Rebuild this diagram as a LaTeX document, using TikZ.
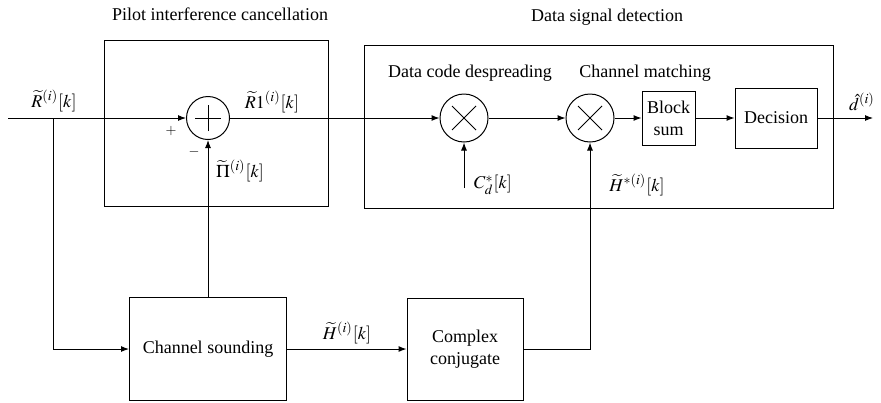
\documentclass[tikz,border=0pt]{standalone}
\usepackage{mathptmx}
\usepackage{fontspec}
\setmainfont{Liberation Serif}
\usetikzlibrary{arrows.meta,calc}
\begin{document}
\begin{tikzpicture}[x=0.5pt,y=-0.5pt,
  font=\fontsize{9}{11}\selectfont, line width=0.5pt,
  arr/.style={-{Latex[length=4pt,width=3pt]}},
  blk/.style={draw, inner sep=0pt, align=center},
  frame/.style={draw, inner sep=0pt},
  sumnode/.style={draw, circle, minimum size=21.5pt, inner sep=0pt,
    path picture={
      \draw ([xshift=-6.5pt]path picture bounding box.center) -- ([xshift=6.5pt]path picture bounding box.center);
      \draw ([yshift=-6.5pt]path picture bounding box.center) -- ([yshift=6.5pt]path picture bounding box.center);}},
  mulnode/.style={draw, circle, minimum size=24pt, inner sep=0pt,
    path picture={
      \draw ([shift={(-6pt,-6pt)}]path picture bounding box.center) -- ([shift={(6pt,6pt)}]path picture bounding box.center);
      \draw ([shift={(-6pt,6pt)}]path picture bounding box.center) -- ([shift={(6pt,-6pt)}]path picture bounding box.center);}},
  lbl/.style={inner sep=0pt}
]
\useasboundingbox (0,0) rectangle (881,402);

% frames
\node[frame, minimum width=112pt, minimum height=83pt] (pilotbox) at (216,123) {};
\node[frame, minimum width=234.5pt, minimum height=81.5pt] (databox) at (598.5,126.5) {};
\node[lbl] (pilottitle) at (220,14) {Pilot interference cancellation};
\node[lbl] (datatitle) at (607,17) {Data signal detection};

% nodes
\node[sumnode] (sum) at (208,118) {};
\node[mulnode] (m1) at (464,118) {};
\node[mulnode] (m2) at (590,118) {};
\node[blk, minimum width=26.5pt, minimum height=27pt] (bs) at (668.5,118) {Block\\sum};
\node[blk, minimum width=41pt, minimum height=30pt] (dec) at (776,118) {Decision};
\node[blk, minimum width=78.5pt, minimum height=51.5pt] (cs) at (208,349) {Channel sounding};
\node[blk, minimum width=58pt, minimum height=51pt] (cc) at (465,349) {Complex\\conjugate};

\node[lbl] (despread) at (470,73) {Data code despreading};
\node[lbl] (chmatch) at (645,73) {Channel matching};

% coordinates
\coordinate (in) at (8,118);
\coordinate (br) at (53,118);
\coordinate (out) at (873,118);
\coordinate (cd) at (464,188);

% connectors
\draw[arr] (in) -- (sum.west);
\draw[arr] (br) |- (cs.west);
\draw[arr] (sum.east) -- (m1.west);
\draw[arr] (m1.east) -- (m2.west);
\draw[arr] (m2.east) -- (bs.west);
\draw[arr] (bs.east) -- (dec.west);
\draw[arr] (dec.east) -- (out);
\draw[arr] (cd) -- (m1.south);
\draw[arr] (cs.north) -- (sum.south);
\draw[arr] (cs.east) -- (cc.west);
\draw[arr] (cc.east) -| (m2.south);

% labels
\node[lbl] (lR) at (54,101) {$\widetilde{R}^{(i)}[k]$};
\node[lbl] (lR1) at (272,102) {$\widetilde{R}1^{(i)}[k]$};
\node[lbl] (lPi) at (240,171) {$\widetilde{\Pi}^{(i)}[k]$};
\node[lbl] (lplus) at (171,131) {\scriptsize $+$};
\node[lbl] (lminus) at (194,152) {\scriptsize $-$};
\node[lbl] (lCd) at (493,185) {$C_d^*[k]$};
\node[lbl] (lHs) at (637,185) {$\widetilde{H}^{*(i)}[k]$};
\node[lbl] (lH) at (347,333) {$\widetilde{H}^{(i)}[k]$};
\node[lbl] (ld) at (862,102) {$\hat{d}^{(i)}$};
\end{tikzpicture}
\end{document}
